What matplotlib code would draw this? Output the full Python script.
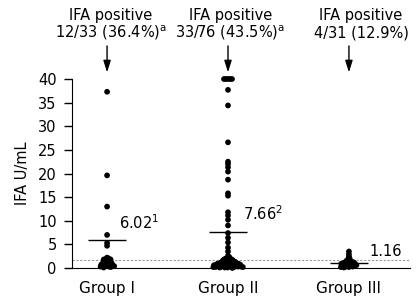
import numpy as np
import matplotlib
matplotlib.use('Agg')
import matplotlib.pyplot as plt

groups = ['Group I', 'Group II', 'Group III']
positive = ['12/33 (36.4%)$^{\\mathrm{a}}$', '33/76 (43.5%)$^{\\mathrm{a}}$', '4/31 (12.9%)']
means = [6.02, 7.66, 1.16]
mean_labels = ['6.02$^{1}$', '7.66$^{2}$', '1.16']
cutoff = 1.7

g1 = [37.3, 19.6, 13.0, 7.0, 5.3, 4.7,
      2.2, 2.0, 1.9, 1.8, 1.8, 1.7, 1.5, 1.4, 1.3, 1.2, 1.1, 1.0, 1.0, 0.9,
      0.8, 0.8, 0.7, 0.6, 0.6, 0.5, 0.5, 0.4, 0.4, 0.3, 0.3, 0.2, 0.1]
g2 = [40, 40, 40, 40, 40, 37.7, 34.4, 26.6, 22.5, 22.0, 21.3, 20.4, 18.7,
      15.8, 15.3, 11.8, 11.1, 10.2, 9.0, 7.4, 6.4, 5.4, 4.3, 3.5, 2.6,
      2.3, 2.1, 2.0, 1.9, 1.8, 1.8, 1.7, 1.6, 1.5, 1.5, 1.4, 1.4, 1.3, 1.3,
      1.2, 1.2, 1.1, 1.1, 1.0, 1.0, 1.0, 0.9, 0.9, 0.9, 0.8, 0.8, 0.8, 0.7,
      0.7, 0.7, 0.6, 0.6, 0.6, 0.5, 0.5, 0.5, 0.4, 0.4, 0.4, 0.3, 0.3, 0.3,
      0.3, 0.2, 0.2, 0.2, 0.2, 0.1, 0.1, 0.1, 0.0]
g3 = [3.5, 2.9, 2.4, 2.0, 1.8, 1.6, 1.5, 1.4, 1.3, 1.2, 1.2, 1.1, 1.0, 1.0,
      0.9, 0.9, 0.8, 0.8, 0.7, 0.7, 0.6, 0.6, 0.5, 0.5, 0.4, 0.4, 0.3, 0.3,
      0.2, 0.2, 0.1]
data = [g1, g2, g3]

W, H = 419, 305
fig = plt.figure(figsize=(W / 100, H / 100), dpi=100)
ax = fig.add_axes([72 / W, 37 / H, 338 / W, 189 / H])
xmin, xmax = 0.71, 3.505
ymax = 40
ax.set_xlim(xmin, xmax)
ax.set_ylim(0, ymax)

# simple beeswarm in pixel space
sx = 338 / (xmax - xmin)
sy = 189 / ymax
d = 2.0


def swarm(vals):
    order = np.argsort(vals)[::-1]
    placed = []
    offs = np.zeros(len(vals))
    for i in order:
        y = vals[i] * sy
        cands = [0.0]
        for (px, py) in placed:
            dy = abs(py - y)
            if dy < d:
                dx = np.sqrt(d * d - dy * dy)
                cands += [px + dx, px - dx]
        cands.sort(key=abs)
        for c in cands:
            if all((c - px) ** 2 + (y - py) ** 2 >= d * d - 1e-6 for px, py in placed):
                offs[i] = c
                placed.append((c, y))
                break
    return offs / sx


for k, vals in enumerate(data):
    vals = np.array(vals, dtype=float)
    xs = k + 1 + swarm(vals)
    ax.scatter(xs, vals, s=17, color='black', edgecolors='none', clip_on=False, zorder=3)
    ax.hlines(means[k], k + 1 - 0.155, k + 1 + 0.155, color='black', lw=1, zorder=4)

ax.axhline(cutoff, color='#999999', lw=0.8, ls=(0, (2, 1.5)), zorder=1)

ax.text(1.1, 9.5, mean_labels[0], fontsize=10.5, va='center', ha='left')
ax.text(2.125, 11.6, mean_labels[1], fontsize=10.5, va='center', ha='left')
ax.text(3.17, 3.4, mean_labels[2], fontsize=10.5, va='center', ha='left')

text_x = [1.03, 2.02, 3.1]
for k in range(3):
    ax.text(text_x[k], 53.5, 'IFA positive', fontsize=10.5, ha='center', va='center')
    ax.text(text_x[k], 49.7, positive[k], fontsize=10.5, ha='center', va='center')
    ax.annotate('', xy=(k + 1, 41.4), xytext=(k + 1, 47.0),
                arrowprops=dict(arrowstyle='-|>,head_length=0.7,head_width=0.22',
                                color='black', lw=1, shrinkA=0, shrinkB=0),
                annotation_clip=False)

ax.spines['top'].set_visible(False)
ax.spines['right'].set_visible(False)
ax.set_xticks([1, 2, 3])
ax.set_xticklabels(groups, fontsize=11)
ax.tick_params(axis='x', length=0, pad=9)
ax.set_yticks(np.arange(0, 41, 5))
ax.tick_params(axis='y', labelsize=10.5, length=6, width=1, pad=5)
ax.set_ylabel('IFA U/mL', fontsize=10.5, labelpad=6)

plt.savefig('out.png', dpi=100)
